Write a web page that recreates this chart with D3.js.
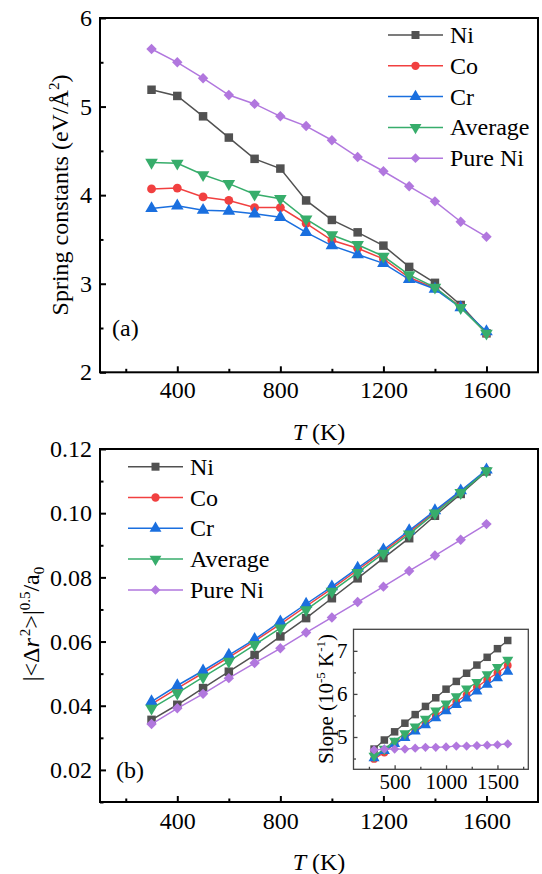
<!DOCTYPE html>
<html>
<head>
<meta charset="utf-8">
<script src="https://cdn.jsdelivr.net/npm/d3@7"></script>
<style>
  body { margin: 0; background: #fff; }
  svg { font-family: "Liberation Serif", "Times New Roman", serif; }
</style>
</head>
<body>
<svg id="chart"></svg>
<script>
// temperatures (K)
let temps = [300, 400, 500, 600, 700, 800, 900, 1000, 1100, 1200, 1300, 1400, 1500, 1600]

// (a) spring constants, eV/A^2
let springNi   = [5.19, 5.12, 4.89, 4.65, 4.41, 4.30, 3.94, 3.72, 3.58, 3.43, 3.19, 3.01, 2.76, 2.44]
let springCo   = [4.07, 4.08, 3.98, 3.94, 3.86, 3.86, 3.68, 3.49, 3.40, 3.28, 3.07, 2.95, 2.74, 2.44]
let springCr   = [3.85, 3.88, 3.83, 3.82, 3.79, 3.75, 3.58, 3.43, 3.33, 3.23, 3.05, 2.94, 2.73, 2.46]
let springAvg  = [4.37, 4.36, 4.23, 4.13, 4.01, 3.96, 3.73, 3.55, 3.44, 3.31, 3.10, 2.96, 2.73, 2.44]
let springPure = [5.65, 5.50, 5.32, 5.13, 5.03, 4.89, 4.78, 4.62, 4.43, 4.27, 4.10, 3.93, 3.70, 3.53]

// (b) |<dr^2>|^0.5 / a0
let msdNi   = [0.0356, 0.0403, 0.0455, 0.0506, 0.0558, 0.0616, 0.0673, 0.0735, 0.0797, 0.0860, 0.0922, 0.0992, 0.1060, 0.1130]
let msdCo   = [0.0405, 0.0454, 0.0502, 0.0551, 0.0601, 0.0654, 0.0710, 0.0765, 0.0823, 0.0881, 0.0941, 0.1004, 0.1067, 0.1133]
let msdCr   = [0.0413, 0.0463, 0.0509, 0.0558, 0.0607, 0.0662, 0.0717, 0.0771, 0.0829, 0.0886, 0.0946, 0.1008, 0.1070, 0.1135]
let msdAvg  = [0.0392, 0.0439, 0.0489, 0.0538, 0.0590, 0.0642, 0.0699, 0.0756, 0.0815, 0.0875, 0.0935, 0.1000, 0.1064, 0.1132]
let msdPure = [0.0343, 0.0392, 0.0437, 0.0486, 0.0533, 0.0579, 0.0628, 0.0675, 0.0723, 0.0771, 0.0820, 0.0868, 0.0917, 0.0966]

// inset: slope, 10^-5 K^-1
let slopeNi   = [4.72, 4.93, 5.12, 5.32, 5.52, 5.71, 5.91, 6.11, 6.29, 6.48, 6.67, 6.85, 7.05, 7.24]
let slopeCo   = [4.49, 4.64, 4.85, 5.01, 5.16, 5.32, 5.50, 5.65, 5.82, 5.98, 6.16, 6.33, 6.49, 6.66]
let slopeCr   = [4.51, 4.68, 4.84, 4.98, 5.13, 5.28, 5.44, 5.60, 5.75, 5.90, 6.06, 6.22, 6.37, 6.52]
let slopeAvg  = [4.56, 4.72, 4.91, 5.08, 5.24, 5.42, 5.61, 5.77, 5.94, 6.12, 6.27, 6.45, 6.62, 6.79]
let slopePure = [4.70, 4.72, 4.72, 4.72, 4.74, 4.76, 4.76, 4.77, 4.79, 4.79, 4.80, 4.81, 4.82, 4.84]

let names = ['Ni', 'Co', 'Cr', 'Average', 'Pure Ni']
let colors = ['#515151', '#F14040', '#1A6FDF', '#37AD6B', '#B177DE']
let shapes = ['square', 'circle', 'up', 'down', 'diamond']

let width = 542
let height = 874

let svg = d3.select('#chart')
    .attr('width', width)
    .attr('height', height)

let symbolPath = (shape, s) => {
    // s = rough size in px
    if (shape == 'square') return d3.symbol(d3.symbolSquare, s * s)()
    if (shape == 'circle') return d3.symbol(d3.symbolCircle, s * s * 0.85)()
    if (shape == 'up' || shape == 'down') return d3.symbol(d3.symbolTriangle, s * s * 0.95)()
    if (shape == 'diamond') return d3.symbol(d3.symbolSquare, s * s * 0.75)()
}
let symbolRotate = (shape) => {
    if (shape == 'down') return ' rotate(180)'
    if (shape == 'diamond') return ' rotate(45)'
    return ''
}

let drawSeries = (g, xScale, yScale, series, size, lw) => {
    series.forEach((vals, i) => {
        let pts = temps.map((t, j) => [t, vals[j]])
        let line = d3.line()
            .x(d => xScale(d[0]))
            .y(d => yScale(d[1]))
        g.append('path')
            .attr('d', line(pts))
            .attr('fill', 'none')
            .attr('stroke', colors[i])
            .attr('stroke-width', lw)
        g.selectAll('.m' + i)
            .data(pts)
            .enter()
            .append('path')
            .attr('class', 'm' + i)
            .attr('d', symbolPath(shapes[i], size))
            .attr('transform', d => 'translate(' + xScale(d[0]) + ',' + yScale(d[1]) + ')' + symbolRotate(shapes[i]))
            .attr('fill', colors[i])
    })
}

let drawLegend = (x0, y0, step) => {
    names.forEach((n, i) => {
        let y = y0 + i * step
        svg.append('line')
            .attr('x1', x0).attr('x2', x0 + 55)
            .attr('y1', y).attr('y2', y)
            .attr('stroke', colors[i])
            .attr('stroke-width', 1.5)
        svg.append('path')
            .attr('d', symbolPath(shapes[i], 8))
            .attr('transform', 'translate(' + (x0 + 27.5) + ',' + y + ')' + symbolRotate(shapes[i]))
            .attr('fill', colors[i])
        svg.append('text')
            .attr('x', x0 + 62)
            .attr('y', y + 8)
            .attr('font-size', 24)
            .text(n)
    })
}

let drawAxes = (xScale, yScale, xMajor, xMinor, yMajor, yMinor, yFmt, opts) => {
    let r = xScale.range()
    let b = yScale.range()
    let g = svg.append('g')
    let fs = opts.fontSize

    g.append('g')
        .attr('transform', 'translate(0,' + b[0] + ')')
        .call(d3.axisBottom(xScale).tickValues(xMajor).tickFormat(d3.format('d')).tickSize(-opts.major).tickSizeOuter(0).tickPadding(opts.xPad))
        .call(a => a.select('.domain').remove())
    g.append('g')
        .attr('transform', 'translate(0,' + b[0] + ')')
        .call(d3.axisBottom(xScale).tickValues(xMinor).tickSize(-opts.minor).tickFormat('').tickSizeOuter(0))
        .call(a => a.select('.domain').remove())
    g.append('g')
        .attr('transform', 'translate(' + r[0] + ',0)')
        .call(d3.axisLeft(yScale).tickValues(yMajor).tickSize(-opts.major).tickFormat(yFmt).tickSizeOuter(0).tickPadding(opts.yPad))
        .call(a => a.select('.domain').remove())
    g.append('g')
        .attr('transform', 'translate(' + r[0] + ',0)')
        .call(d3.axisLeft(yScale).tickValues(yMinor).tickSize(-opts.minor).tickFormat('').tickSizeOuter(0))
        .call(a => a.select('.domain').remove())

    g.selectAll('.tick line').attr('stroke', opts.stroke).attr('stroke-width', opts.lw)
    g.selectAll('.tick text')
        .attr('font-family', '"Liberation Serif", serif')
        .attr('font-size', fs)
        .attr('fill', '#000')

    g.append('rect')
        .attr('x', r[0]).attr('y', b[1])
        .attr('width', r[1] - r[0]).attr('height', b[0] - b[1])
        .attr('fill', 'none')
        .attr('stroke', opts.stroke)
        .attr('stroke-width', opts.lw)
}

// ---------- panel (a)
let xA = d3.scaleLinear().domain([100, 1800]).range([100, 538])
let yA = d3.scaleLinear().domain([2, 6]).range([372.3, 18])

drawSeries(svg.append('g'), xA, yA, [springNi, springCo, springCr, springAvg, springPure], 8.5, 1.5)
drawAxes(xA, yA, [400, 800, 1200, 1600], [200, 600, 1000, 1400],
    [2, 3, 4, 5, 6], [2.5, 3.5, 4.5, 5.5], d3.format('d'),
    {fontSize: 24, major: 6, minor: 3.5, xPad: 9, yPad: 8, stroke: '#000', lw: 2})
drawLegend(388, 35, 30.8)

svg.append('text').attr('x', 112).attr('y', 336).attr('font-size', 24).text('(a)')

svg.append('text')
    .attr('x', 319).attr('y', 440)
    .attr('text-anchor', 'middle')
    .attr('font-size', 24)
    .html('<tspan font-style="italic">T</tspan> (K)')

svg.append('text')
    .attr('transform', 'translate(68,195) rotate(-90)')
    .attr('text-anchor', 'middle')
    .attr('font-size', 24)
    .html('Spring constants (eV/Å<tspan font-size="15" dy="-9">2</tspan><tspan dy="9">)</tspan>')

// ---------- panel (b)
let xB = d3.scaleLinear().domain([100, 1800]).range([100, 538])
let yB = d3.scaleLinear().domain([0.01, 0.12]).range([802, 449])

drawSeries(svg.append('g'), xB, yB, [msdNi, msdCo, msdCr, msdAvg, msdPure], 8.5, 1.5)
drawAxes(xB, yB, [400, 800, 1200, 1600], [200, 600, 1000, 1400],
    [0.02, 0.04, 0.06, 0.08, 0.10, 0.12], [0.01, 0.03, 0.05, 0.07, 0.09, 0.11], d3.format('.2f'),
    {fontSize: 24, major: 6, minor: 3.5, xPad: 10, yPad: 8, stroke: '#000', lw: 2})
drawLegend(128, 466.7, 30.8)

svg.append('text').attr('x', 116).attr('y', 778).attr('font-size', 24).text('(b)')

svg.append('text')
    .attr('x', 319).attr('y', 870)
    .attr('text-anchor', 'middle')
    .attr('font-size', 24)
    .html('<tspan font-style="italic">T</tspan> (K)')

svg.append('text')
    .attr('transform', 'translate(39,624) rotate(-90)')
    .attr('text-anchor', 'middle')
    .attr('font-size', 24)
    .html('|&lt;Δ<tspan font-style="italic">r</tspan><tspan font-size="15" dx="2" dy="-9">2</tspan><tspan dy="9">&gt;|</tspan><tspan font-size="15" dy="-9">0.5</tspan><tspan dy="9">/a</tspan><tspan font-size="15" dy="5">0</tspan>')

// ---------- inset
let xI = d3.scaleLinear().domain([100, 1800]).range([353.5, 528.3])
let yI = d3.scaleLinear().domain([4.25, 7.5]).range([769.3, 629.3])

svg.append('rect')
    .attr('x', 353.5).attr('y', 629.3)
    .attr('width', 528.3 - 353.5).attr('height', 769.3 - 629.3)
    .attr('fill', '#fff')
drawSeries(svg.append('g'), xI, yI, [slopeNi, slopeCo, slopeCr, slopeAvg, slopePure], 7.5, 1.3)
drawAxes(xI, yI, [500, 1000, 1500], [250, 750, 1250, 1750],
    [5, 6, 7], [4.5, 5.5, 6.5], d3.format('d'),
    {fontSize: 21, major: 4, minor: 2.5, xPad: 5, yPad: 6, stroke: '#444', lw: 1.3})

svg.append('text')
    .attr('transform', 'translate(333,699) rotate(-90)')
    .attr('text-anchor', 'middle')
    .attr('font-size', 21)
    .html('Slope (10<tspan font-size="13" dy="-8">-5</tspan><tspan dy="8"> K</tspan><tspan font-size="13" dy="-8">-1</tspan><tspan dy="8">)</tspan>')
</script>
</body>
</html>
